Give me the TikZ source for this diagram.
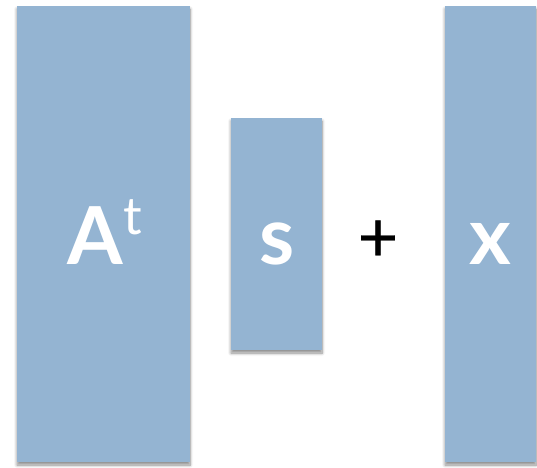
\documentclass[tikz,border=0pt]{standalone}
\usepackage{fontspec}
\setmainfont{Lato}
\newfontfamily\plusfont[FakeBold=0.5]{Lato}
\usetikzlibrary{shadows.blur}
\definecolor{barblue}{HTML}{94B4D2}
\tikzset{
  bar/.style={fill=barblue, draw=none, inner sep=0pt, outer sep=0pt,
    blur shadow={shadow xshift=0pt, shadow yshift=-3pt, shadow blur steps=8, shadow blur radius=3pt, shadow opacity=45}},
  sym/.style={text=white, font=\fontsize{80}{80}\selectfont\bfseries, inner sep=0pt}
}
\begin{document}
\begin{tikzpicture}[x=1pt,y=-1pt]
  \useasboundingbox (0,0) rectangle (537,467);
  % matrix A^t
  \path[bar] (17,6) rectangle (190,462);
  % vector s
  \path[bar] (231,118) rectangle (322,350);
  % vector x
  \path[bar] (445,6) rectangle (536,462);
  \node[sym, anchor=base] (A) at (95,264) {A};
  \node[font=\fontsize{52}{52}\selectfont, text=white, anchor=base, inner sep=0pt] (t) at (133,234) {t};
  \node[sym, anchor=base] (s) at (277,264) {s};
  \node[font=\plusfont\fontsize{70}{70}\selectfont, anchor=center, inner sep=0pt] (plus) at (378,241) {+};
  \node[sym, anchor=base] (x) at (490,264) {x};
\end{tikzpicture}
\end{document}
